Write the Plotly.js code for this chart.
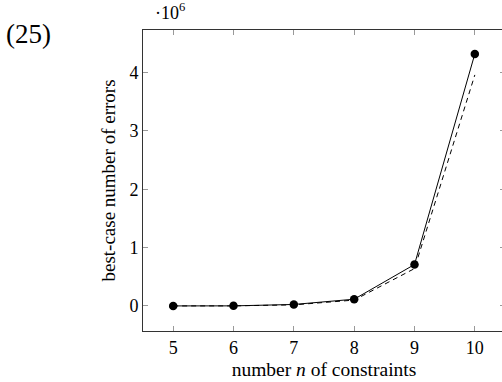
<!DOCTYPE html>
<html>
<head>
<meta charset="utf-8">
<script src="https://cdn.plot.ly/plotly-3.0.1.min.js"></script>
<style>
html,body{margin:0;padding:0;overflow:hidden;background:#fff;width:502px;height:382px;}
#chart{width:506px;height:382px;}
</style>
</head>
<body>
<div id="chart"></div>
<script>
const nConstraints = [5, 6, 7, 8, 9, 10];
const bestCaseErrors = [0, 1000, 25000, 115000, 710000, 4320000];
const estimateErrors = [0, 800, 18000, 100000, 640000, 3960000];
const yTickVals = [0, 1000000, 2000000, 3000000, 4000000];
const yTickText = ['0', '1', '2', '3', '4'];
const xTickVals = [5, 6, 7, 8, 9, 10];

const fontFam = '"Liberation Serif", "DejaVu Serif", serif';

const traces = [
  {
    x: nConstraints, y: estimateErrors, type: 'scatter', mode: 'lines',
    line: {color: '#000', width: 1, dash: '5px,4px'}, showlegend: false, hoverinfo: 'skip'
  },
  {
    x: nConstraints, y: bestCaseErrors, type: 'scatter', mode: 'lines+markers',
    line: {color: '#000', width: 1}, marker: {color: '#000', size: 8.5},
    showlegend: false
  }
];

const layout = {
  width: 506, height: 382,
  margin: {l: 143, r: 1, t: 30, b: 51},
  paper_bgcolor: '#fff', plot_bgcolor: '#fff',
  font: {family: fontFam, color: '#000', size: 18},
  showlegend: false,
  xaxis: {
    range: [4.5, 10.5], tickvals: xTickVals, ticktext: xTickVals.map(String),
    ticks: 'inside', ticklen: 5, tickcolor: '#999', tickwidth: 1,
    showline: true, linecolor: '#333', linewidth: 1, mirror: 'ticks',
    showgrid: false, zeroline: false,
    tickfont: {family: fontFam, size: 18},
    title: {text: 'number <i>n</i> of constraints', font: {family: fontFam, size: 19.5}, standoff: 5}
  },
  yaxis: {
    range: [-430000, 4730000], tickvals: yTickVals, ticktext: yTickText,
    ticks: 'inside', ticklen: 5, tickcolor: '#999', tickwidth: 1,
    showline: true, linecolor: '#333', linewidth: 1, mirror: 'ticks',
    showgrid: false, zeroline: false,
    tickfont: {family: fontFam, size: 18},
    title: {text: 'best-case number of errors', font: {family: fontFam, size: 19}, standoff: 8}
  },
  annotations: [
    {text: '·10<sup>6</sup>', xref: 'paper', yref: 'paper', x: 0.0, y: 1.0,
     xanchor: 'left', yanchor: 'bottom', xshift: 10, yshift: 5, showarrow: false,
     font: {family: fontFam, size: 18}},
    {text: '(25)', xref: 'paper', yref: 'paper', x: 0, y: 1, xanchor: 'left', yanchor: 'middle',
     xshift: -139, yshift: -4, showarrow: false, font: {family: fontFam, size: 27}}
  ]
};

Plotly.newPlot('chart', traces, layout, {displayModeBar: false, staticPlot: true});
</script>
</body>
</html>
